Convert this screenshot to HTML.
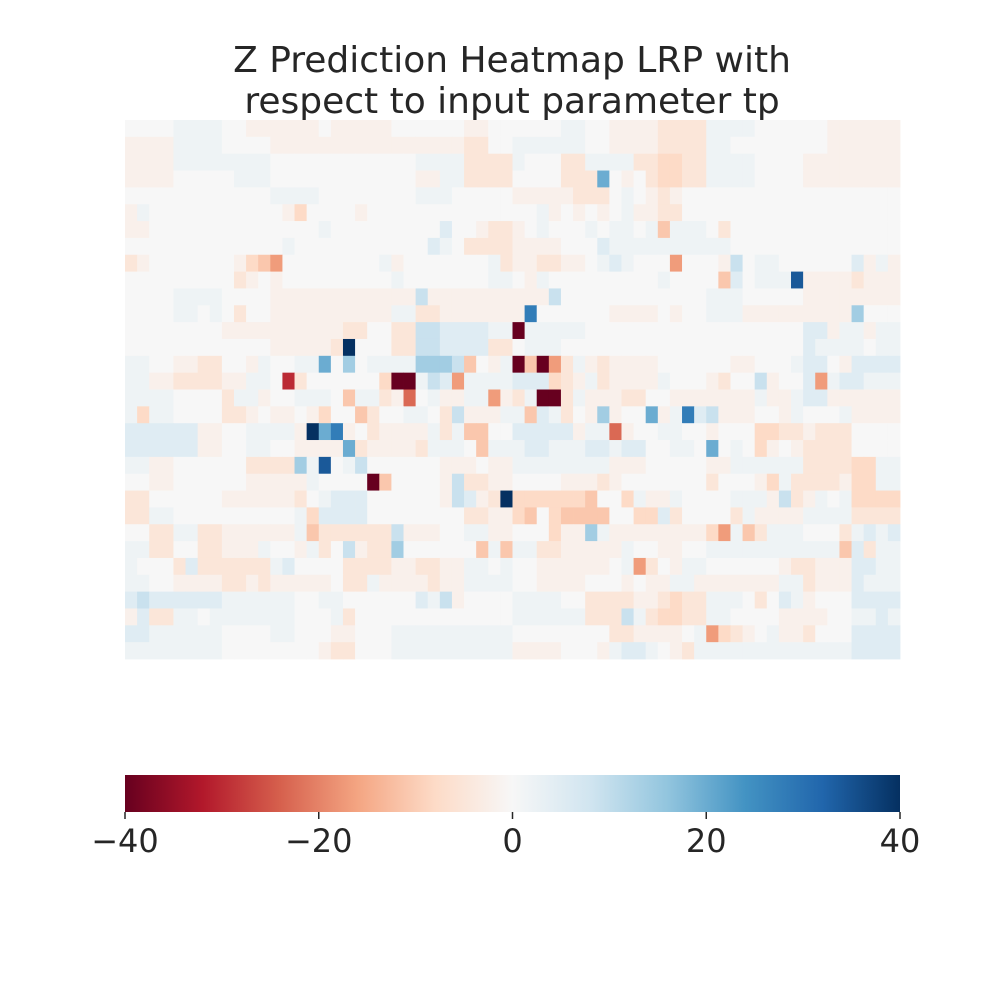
<!DOCTYPE html>
<html><head><meta charset="utf-8"><style>
body{margin:0;background:#fff;}
svg{font-family:"DejaVu Sans","Liberation Sans",sans-serif;}
</style></head><body>
<svg id="chart" width="1000" height="1000" viewBox="0 0 1000 1000">
<rect width="1000" height="1000" fill="#fff"/>
<text x="512" y="72" text-anchor="middle" font-size="36" fill="#262626">Z Prediction Heatmap LRP with</text>
<text x="512" y="113" text-anchor="middle" font-size="36" fill="#262626">respect to input parameter tp</text>
<g id="cells"></g>
<defs><linearGradient id="cbg" x1="0" x2="1" y1="0" y2="0">
<stop offset="0" stop-color="#67001f"/><stop offset="0.1" stop-color="#b2182b"/><stop offset="0.2" stop-color="#d6604d"/><stop offset="0.3" stop-color="#f4a582"/><stop offset="0.4" stop-color="#fddbc7"/><stop offset="0.5" stop-color="#f7f7f7"/><stop offset="0.6" stop-color="#d1e5f0"/><stop offset="0.7" stop-color="#92c5de"/><stop offset="0.8" stop-color="#4393c3"/><stop offset="0.9" stop-color="#2166ac"/><stop offset="1" stop-color="#053061"/>
</linearGradient></defs>
<rect x="125" y="775" width="775" height="37" fill="url(#cbg)"/>
<g id="cbticks"></g>
</svg>
<script>
// each character is one cell value (see levelCodes / levelValues)
const levelCodes  = ['.','a','b','c','d','e','f','h','g','A','B','C','D','E','F','H','G'];
const levelValues = [0,-2,-5,-8,-11,-17,-23,-30,-40,2,5,9,14,20,28,34,40];
const gridRows = [
"....AAAA..aaaaaa.aaaaa......aa......AA..aaaabbbbAAAA......aaaaaa",
"aaaaAAAA....aaaaaaaaaaaaaaaabb..AAAAAA..aaaabbbbAA........aaaaaa",
"aaaaAAAAAAAA............AAAAbbbbA...bbAAAAbbccbbAAAA....aaaaaaaa",
"aaaa.....AAA............aaAAbbbb....bbbE.a.bccbbAAAA....aaaaaaaa",
"............AAAA........AAA.....aaaaabbb.A.aba..................",
"aA...........ac....a..............Aa.a.a.Aaabb..................",
"aa..............A.........B..abba.A...A.AA.AdAAA.b..............",
".............A...........BA.bbbbaaaa...BAAAAAAAAAA..............",
"ba.......acde........Aa.......Abaabbaa.ABA...e...aC.AA......BaAa",
".........ba.a.........A.......AA.aA.........A....dB.AAAHaaaabaaa",
"....AAAA....aaaaaaaaaaaaCaaaaaaaaaaC............AAA.....aaaaaaaa",
"....AA.A.b..aaaaaaaaaaAAbbaaaaaaaF......aaaa.a..AAAaaaaaaaaaD...",
"........aaaaaaaaaabb..bbCCBBBBAAgAAAAA..................BBaAAaAA",
"............aaaaabG...bbCCBBBBbb.AAA....................BAAAA.AA",
"AA..aabb..aA..AAE.D.AAAADDDCd.aAgdgebAabaaaa......aa...ABB.aBBBB",
"AAaabbbbaaAA.hb......cggACBeAAAABBBcbaAbaaaaA...ab..Ca..BeABBAAA",
"AAAA....bAAa..AAA.dAAbaf.AaaAAeabAggbAaaabb..aaaaaaaAaaABBaaaaaa",
"AcAA....bba.aa.ac..db..AA.bCaaaAAdBAb.aDa..EaAFBCaaa..aA...Aaaaa",
"BBBBBBaa..AAAAaGEFa.baaaaAbAdd..BBBBBaAAfa..AA..a...ccbbabbb....",
"BBBBBBaa..AA..aaaaEbaaaabAAA.dAAABBAAABBABB..AA.E.A.ca.abbbb....",
"AAaa......bbbbDAH.AC......aaa.aaAAAAAAAAaaa.....aaAAAAAAbbbbccAA",
"..aa......aaaaaA....gd....aCbbaa....aaaba.......b...acAbbbbaccAA",
"bb......aaaaaab.ABBB......aCBabGccccccd..cAaaA....AAAaCbaA.Acccc",
"bbAA..........AcBBBB........bbaacd.cdddd..ccBb....bAaaaaAAAAbbbb",
"..bbAAbbaaaaaaAdbbbbbbCaaa..AAaa...caaDAaaaaaaaaceAdbAAA...bABAB",
"AAbb..bbaaaA..aAb.CabbD......dAdAAbbaaaaaA..aa..AAAAAAAAAAAdBbAA",
"A...bBbbbbbbAB....bbbbaabbaaAA.A..aaaaaa.Aeb.aAA......abbaaaBBAA",
"AA..aaaabbabaaaaa.bbAaaaabaaAAAA..aaaa...a.aaAAaaaaaaaAAbaaaBAAA",
"BCBBBBBBAAAAAA..AA......BACa....AAAA..bbbbaabcbbAAA.b.BAa...BBBB",
"aBbbAA.AAAAAAA...Ab.............AAAAAAbbbCAbccbbAA....aaaa..AABA",
"BBAAAAAA....AA...aa...AAAAAAAAAA........bbaaaa.Aecba.Aaab...BBBB",
"AAAAAAAA........abb...AAAAAAAAAAaaaa...aABBA.abAAAAAAAAAAAAABBBB"
];
const cbTickVals = [-40,-20,0,20,40];
const cbTickLabels = ["\u221240","\u221220","0","20","40"];

const nRows = gridRows.length, nCols = 64;
const x0=125,x1=900,y0=120,y1=659;
const cw=(x1-x0)/nCols, ch=(y1-y0)/nRows;
const xCell=c=>x0+c*cw, yCell=r=>y0+r*ch;
const vmin=-40,vmax=40;
const cmap=["#67001f","#b2182b","#d6604d","#f4a582","#fddbc7","#f7f7f7","#d1e5f0","#92c5de","#4393c3","#2166ac","#053061"].map(h=>[1,3,5].map(i=>parseInt(h.substr(i,2),16)));
function color(v){let t=Math.max(0,Math.min(1,(v-vmin)/(vmax-vmin)))*10;
const i=Math.min(9,Math.floor(t)),f=t-i;const a=cmap[i],b=cmap[i+1];
const c=a.map((x,k)=>Math.round(x+(b[k]-x)*f));return `rgb(${c[0]},${c[1]},${c[2]})`;}
function cellValue(ch){const i=levelCodes.indexOf(ch);return i<0?0:levelValues[i];}
const NS="http://www.w3.org/2000/svg";
const g=document.getElementById('cells');
for(let r=0;r<nRows;r++)for(let c=0;c<nCols;c++){
const v=cellValue(gridRows[r][c]||'.');
const el=document.createElementNS(NS,'rect');
el.setAttribute('x',xCell(c));el.setAttribute('y',yCell(r));
el.setAttribute('width',cw+0.4);el.setAttribute('height',ch+0.4);
el.setAttribute('fill',color(v));


g.appendChild(el);}
const tg=document.getElementById('cbticks');
const xcb=v=>x0+(v-vmin)/(vmax-vmin)*(x1-x0);
cbTickVals.forEach((v,i)=>{
const l=document.createElementNS(NS,'line');
l.setAttribute('x1',xcb(v));l.setAttribute('x2',xcb(v));l.setAttribute('y1',812);l.setAttribute('y2',819);
l.setAttribute('stroke','#262626');l.setAttribute('stroke-width','1.5');


tg.appendChild(l);
const t=document.createElementNS(NS,'text');
t.setAttribute('x',xcb(v));t.setAttribute('y',852);t.setAttribute('text-anchor','middle');
t.setAttribute('font-size','32');t.setAttribute('fill','#262626');t.textContent=cbTickLabels[i];


tg.appendChild(t);});
</script>
</body></html>
